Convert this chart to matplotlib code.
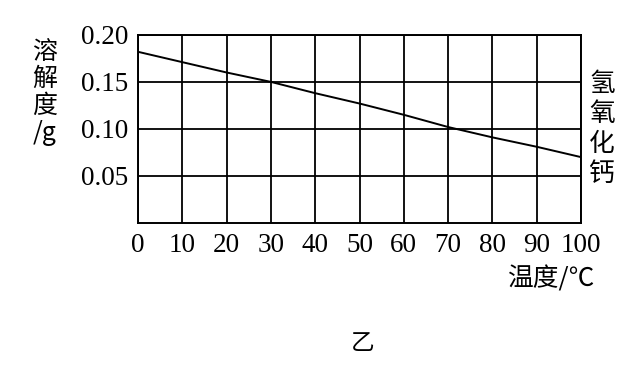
import matplotlib
matplotlib.use("Agg")
import matplotlib.pyplot as plt

# temperature (C) vs solubility of Ca(OH)2 (g)
temps = [0, 10, 20, 30, 40, 50, 60, 70, 80, 90, 100]
solub = [0.182, 0.171, 0.160, 0.150, 0.138, 0.127, 0.115, 0.102, 0.091, 0.081, 0.070]
xticks = [0, 10, 20, 30, 40, 50, 60, 70, 80, 90, 100]
yticks = [0.05, 0.10, 0.15, 0.20]
ytick_labels = ["0.05", "0.10", "0.15", "0.20"]

serif = "Liberation Serif"
cjk = ["Noto Sans CJK SC", "DejaVu Sans"]

fig = plt.figure(figsize=(6.33, 3.71), dpi=100)
ax = fig.add_axes([0.218, 0.399, 0.700, 0.507])

ax.plot(temps, solub, color="black", lw=1.4)

ax.set_xlim(0, 100)
ax.set_ylim(0, 0.20)
ax.set_xticks(xticks)
ax.set_yticks(yticks)
ax.set_xticklabels([str(t) for t in xticks], fontfamily=serif, fontsize=19.5)
ax.set_yticklabels(ytick_labels, fontfamily=serif, fontsize=19.5)
ax.tick_params(length=0, pad=7)
ax.grid(True, color="black", lw=1.3)
for s in ax.spines.values():
    s.set_linewidth(1.4)

fig.text(0.071, 0.75, "溶\n解\n度\n/g", family=cjk, fontsize=18,
         ha="center", va="center", linespacing=1.05)
fig.text(0.951, 0.653, "氢\n氧\n化\n钙", family=cjk, fontsize=18.5,
         ha="center", va="center", linespacing=1.2)
fig.text(0.872, 0.247, "温度/℃", family=cjk, fontsize=18.5, ha="center", va="center")
fig.text(0.573, 0.075, "乙", family=cjk, fontsize=17, ha="center", va="center")

fig.savefig("out.png", dpi=100, facecolor="white")
